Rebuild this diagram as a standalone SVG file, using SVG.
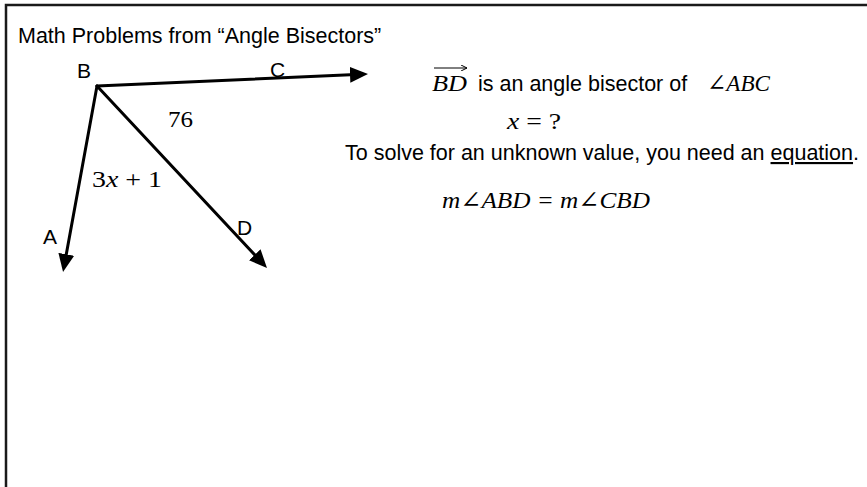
<svg xmlns="http://www.w3.org/2000/svg" width="867" height="487" viewBox="0 0 867 487">
  <style>
    .sans { font-family: "Liberation Sans", Arial, sans-serif; fill: #000; }
    .t { font-size: 21.5px; }
    .lbl { font-size: 21px; }
    .math { font-family: "Liberation Serif", "DejaVu Serif", serif; font-size: 24px; fill: #000; }
    .it { font-style: italic; }
    .ray { stroke: #000; stroke-width: 3; fill: none; stroke-linecap: round; }
  </style>
  <defs>
    <marker id="arrow" viewBox="0 0 18 16" refX="6" refY="8" markerWidth="18" markerHeight="16" markerUnits="userSpaceOnUse" orient="auto">
      <path d="M0,0 L18,8 L0,16 Z" fill="#000"/>
    </marker>
    <marker id="vec" viewBox="0 0 6 6" refX="6" refY="3" markerWidth="6" markerHeight="6" markerUnits="userSpaceOnUse" orient="auto">
      <path d="M0,0 L6,3 L0,6" fill="none" stroke="#000" stroke-width="1"/>
    </marker>
  </defs>
  <rect width="867" height="487" fill="#fff"/>
  <path d="M6,487 V5 H867" fill="none" stroke="#1a1a1a" stroke-width="2.5"/>

  <text class="sans t" x="18" y="43">Math Problems from “Angle Bisectors”</text>

  <g id="connectors">
    <line class="ray" x1="97" y1="86" x2="356" y2="74.5" marker-end="url(#arrow)"/>
    <line class="ray" x1="97" y1="86" x2="65.2" y2="260.2" marker-end="url(#arrow)"/>
    <line class="ray" x1="97" y1="86" x2="258.8" y2="259.2" marker-end="url(#arrow)"/>
  </g>

  <g id="node-B"><text class="sans lbl" x="77" y="78">B</text></g>
  <g id="node-C"><text class="sans lbl" x="270" y="77">C</text></g>
  <g id="node-A"><text class="sans lbl" x="43" y="244">A</text></g>
  <g id="node-D"><text class="sans lbl" x="237" y="235">D</text></g>

  <g id="angle-labels">
    <text class="math" x="168" y="127" textLength="25" lengthAdjust="spacingAndGlyphs">76</text>
    <text class="math" x="92" y="187" textLength="70" lengthAdjust="spacingAndGlyphs">3<tspan class="it">x</tspan> + 1</text>
  </g>

  <g id="statement">
    <text class="math it" x="432" y="91" textLength="35" lengthAdjust="spacingAndGlyphs">BD</text>
    <line x1="434" y1="68" x2="467" y2="68" stroke="#000" stroke-width="1" marker-end="url(#vec)"/>
    <text class="sans t" x="478" y="91">is an angle bisector of</text>
    <text class="math it" x="707" y="91" textLength="63" lengthAdjust="spacingAndGlyphs">∠ABC</text>
    <text class="math" x="507" y="129" textLength="54" lengthAdjust="spacingAndGlyphs"><tspan class="it">x</tspan> = ?</text>
    <text class="sans t" x="345" y="160">To solve for an unknown value, you need an <tspan text-decoration="underline">equation</tspan>.</text>
    <text class="math it" x="442" y="208" textLength="208" lengthAdjust="spacingAndGlyphs">m∠ABD = m∠CBD</text>
  </g>
</svg>
